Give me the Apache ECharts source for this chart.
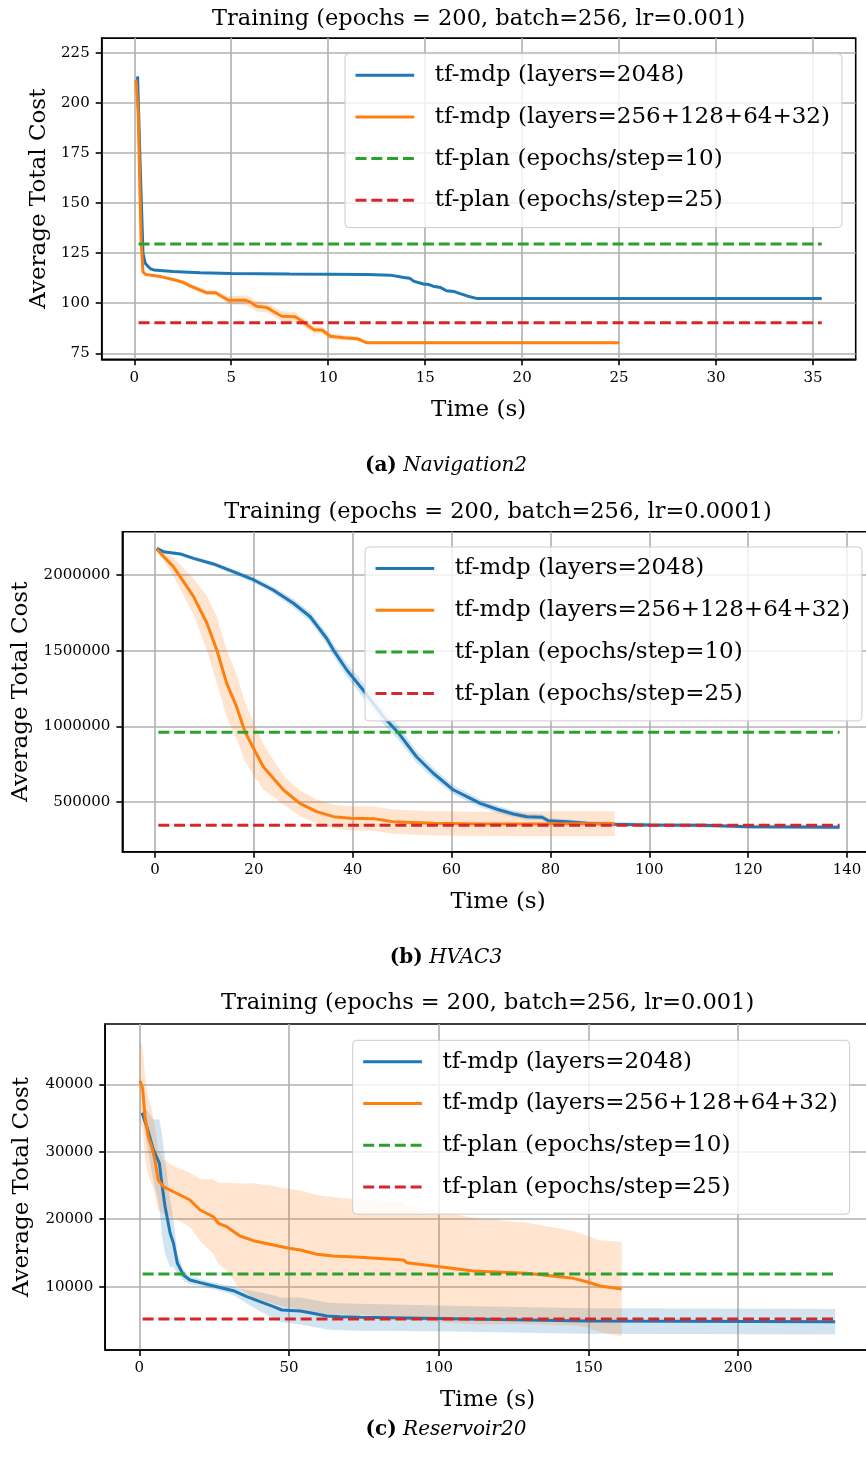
<!DOCTYPE html>
<html>
<head>
<meta charset="utf-8">
<title>training curves</title>
<style>
    * { margin: 0; padding: 0; }
    html, body { overflow: hidden; }
    /* wider than the window: the right spines of (b) and (c) fall outside the picture */
    #chart { width: 900px; height: 1475px; }
</style>
</head>
<body>
<div id="chart"></div>
<script src="https://cdn.jsdelivr.net/npm/echarts@6/dist/echarts.min.js"></script>
<script>
// ---- data ----
const names = ['tf-mdp (layers=2048)', 'tf-mdp (layers=256+128+64+32)', 'tf-plan (epochs/step=10)', 'tf-plan (epochs/step=25)'];
const titles = ['Training (epochs = 200, batch=256, lr=0.001)', 'Training (epochs = 200, batch=256, lr=0.0001)', 'Training (epochs = 200, batch=256, lr=0.001)'];
const captions = [['(a)', 'Navigation2'], ['(b)', 'HVAC3'], ['(c)', 'Reservoir20']];

// (a) Navigation2
const navXTicks = [0, 5, 10, 15, 20, 25, 30, 35];
const navYTicks = [75, 100, 125, 150, 175, 200, 225];
const navTimeBig = [0.17, 0.3, 0.45, 0.57, 0.82, 1.0, 2.0, 3.4, 5, 8, 10, 12, 13.2, 13.9, 14.2, 14.4, 14.9, 15.2, 15.4, 15.8, 16.1, 16.5, 16.8, 17.2, 17.7, 20, 25, 30, 35.45];
const navMeanBig = [213.2, 170, 124.8, 119.8, 117.3, 116.6, 115.8, 115.2, 114.8, 114.6, 114.5, 114.3, 114.0, 112.8, 112.5, 111.0, 109.6, 109.3, 108.5, 107.8, 106.2, 105.8, 104.8, 103.5, 102.3, 102.3, 102.3, 102.3, 102.3];
const navStdBig = [1, 1, 0.6, 0.4, 0.4, 0.4, 0.3, 0.3, 0.3, 0.3, 0.3, 0.3, 0.4, 0.6, 0.7, 0.7, 0.7, 0.7, 0.7, 0.7, 0.6, 0.6, 0.5, 0.4, 0.2, 0.1, 0.1, 0.1, 0.1];
const navTimeSmall = [0.09, 0.2, 0.27, 0.35, 0.45, 0.6, 1.25, 2.0, 2.5, 2.9, 3.4, 3.75, 4.2, 4.5, 4.86, 5.7, 6.0, 6.3, 6.84, 7.2, 7.6, 8.3, 8.7, 9.25, 9.7, 10.1, 10.8, 11.5, 12.0, 15, 20, 25];
const navMeanSmall = [211.5, 195, 165, 131.5, 115.5, 114.3, 113.5, 111.8, 110.5, 108.5, 106.5, 105.2, 105.2, 103.5, 101.5, 101.5, 100.5, 98.5, 97.8, 95.7, 93.5, 93.2, 90.7, 86.8, 86.5, 83.5, 82.7, 82.3, 80.2, 80.2, 80.2, 80.2];
const navStdSmall = [4, 3, 2, 1, 0.5, 0.4, 0.5, 0.8, 1.0, 1.2, 1.3, 1.2, 1.2, 1.5, 2.0, 2.5, 2.6, 2.6, 2.5, 2.5, 2.5, 2.4, 2.2, 2.0, 1.8, 1.5, 1.3, 1.2, 0.5, 0, 0, 0];
const navPlan = [129.5, 90.2];
const navPlanSpan = [0.22, 35.45];

// (b) HVAC3
const hvXTicks = [0, 20, 40, 60, 80, 100, 120, 140];
const hvYTicks = [500000, 1000000, 1500000, 2000000];
const hvTimeBig = [0.33, 1.7, 5.1, 7.8, 11.8, 15.8, 20, 23.9, 28, 31.4, 34.7, 36.1, 38.8, 42.1, 46.2, 49.2, 52.9, 56.3, 60.4, 63.1, 65.8, 69.2, 72.5, 75.2, 78.3, 79.6, 83.3, 87.4, 92.8, 100, 110.6, 120, 130.5, 138.5];
const hvMeanBig = [2176000, 2154000, 2139000, 2110000, 2073000, 2022000, 1967000, 1901000, 1813000, 1724000, 1582000, 1504000, 1372000, 1240000, 1064000, 958000, 799000, 690000, 579000, 535000, 491000, 452000, 421000, 403000, 399000, 376000, 370000, 359000, 353000, 348000, 346000, 337000, 335000, 333000];
const hvStdBig = [3000, 8000, 10000, 12000, 14000, 16000, 18000, 22000, 28000, 32000, 38000, 40000, 45000, 50000, 50000, 45000, 40000, 35000, 30000, 28000, 26000, 24000, 22000, 20000, 20000, 18000, 16000, 15000, 15000, 14000, 14000, 14000, 14000, 14000];
const hvTimeSmall = [0.33, 3.7, 7.8, 10.5, 12.5, 14.5, 16.5, 18.2, 20, 21.9, 26, 29.3, 32.7, 36.1, 39.5, 44.2, 48.2, 56.3, 65.8, 75, 85, 93];
const hvMeanSmall = [2170000, 2055000, 1857000, 1681000, 1504000, 1284000, 1130000, 964000, 850000, 733000, 579000, 491000, 436000, 403000, 392000, 390000, 370000, 359000, 355000, 355000, 356000, 356000];
const hvStdSmall = [8000, 60000, 120000, 180000, 220000, 220000, 213000, 195000, 176000, 150000, 95000, 86000, 80000, 78000, 80000, 80000, 80000, 80000, 80000, 82000, 82000, 82000];
const hvPlan = [960400, 346000];
const hvPlanSpan = [0.67, 138.5];

// (c) Reservoir20
const resXTicks = [0, 50, 100, 150, 200];
const resYTicks = [10000, 20000, 30000, 40000];
const resTimeBig = [0.9, 2.5, 4.7, 6.7, 7.5, 8.6, 10.3, 11.4, 12.7, 14.7, 16.9, 20.3, 25.9, 31.4, 35.9, 40.3, 44.8, 47.6, 53.7, 57, 62.6, 67, 73.7, 99.3, 149.4, 232.4];
const resMeanBig = [35790, 33710, 30260, 28290, 25320, 21860, 17910, 16430, 13470, 11730, 11000, 10600, 10000, 9410, 8520, 7780, 7040, 6550, 6400, 6150, 5660, 5550, 5460, 5300, 4920, 4810];
const resStdBig = [300, 2500, 4500, 6500, 7500, 7000, 5000, 3500, 1500, 800, 600, 500, 500, 600, 1000, 1400, 1700, 1800, 2000, 2000, 2000, 2000, 2000, 1900, 1900, 1900];
const resTimeSmall = [0.2, 1.1, 1.9, 3.0, 4.1, 5.2, 6.3, 8, 10.2, 13.6, 16.9, 20.3, 24.7, 26.4, 29.2, 33.6, 38.1, 44.8, 50, 53.7, 59.3, 64.8, 73.7, 88.2, 89.3, 100.4, 111.6, 129.4, 145, 149.4, 153.9, 161.1];
const resMeanSmall = [40530, 39400, 35200, 32230, 30750, 28780, 25810, 24820, 24330, 23590, 22850, 21370, 20370, 19400, 18890, 17510, 16820, 16180, 15690, 15440, 14800, 14550, 14360, 13960, 13560, 12960, 12330, 11990, 11240, 10740, 10100, 9660];
const resStdSmall = [6000, 6000, 6000, 5800, 5500, 5000, 4500, 4000, 3900, 3900, 4000, 4600, 5500, 6000, 6500, 7800, 8500, 8700, 8800, 8800, 8800, 8700, 8500, 8600, 8500, 8200, 7900, 7500, 7000, 6800, 6800, 7000];
const resPlan = [11880, 5213];
const resPlanSpan = [1.1, 232.4];

// ---- look ----
const SERIF = '"DejaVu Serif", serif';
const BLUE = '#1f77b4', ORANGE = '#ff7f0e', GREEN = '#2ca02c', RED = '#d62728';
const DASH = [11, 4.8];

// pixel frames of the three axes (matplotlib layout)
const frames = [
    {left: 101.7, top: 38.1, width: 754, height: 321.2, x: [-1.68, 37.2], y: [72, 232.3],
        legend: {left: 345, top: 53.7}, titleY: 19, capY: 466, yNameGap: 50},
    {left: 122.4, top: 531.7, width: 751.3, height: 320, x: [-6.6, 145.4], y: [171500, 2286000],
        legend: {left: 365, top: 547}, titleY: 512, capY: 958, yNameGap: 89},
    {left: 105.2, top: 1024, width: 764.7, height: 326, x: [-11.4, 244], y: [620, 48930],
        legend: {left: 352.7, top: 1040.3}, titleY: 1003, capY: 1430, yNameGap: 72}
];

const panels = [
    {xTicks: navXTicks, yTicks: navYTicks,
        big: [navTimeBig, navMeanBig, navStdBig], small: [navTimeSmall, navMeanSmall, navStdSmall],
        plan: navPlan, span: navPlanSpan},
    {xTicks: hvXTicks, yTicks: hvYTicks,
        big: [hvTimeBig, hvMeanBig, hvStdBig], small: [hvTimeSmall, hvMeanSmall, hvStdSmall],
        plan: hvPlan, span: hvPlanSpan},
    {xTicks: resXTicks, yTicks: resYTicks,
        big: [resTimeBig, resMeanBig, resStdBig], small: [resTimeSmall, resMeanSmall, resStdSmall],
        plan: resPlan, span: resPlanSpan}
];

// mean +- std shading, one polygon through the axis scales
function bandSeries(k, run, color) {
    const [t, m, s] = run;
    return {
        type: 'custom', xAxisIndex: k, yAxisIndex: k, silent: true, animation: false, clip: true,
        data: t.map((x, i) => [x, m[i] - s[i], m[i] + s[i]]),
        encode: {x: 0, y: [1, 2]},
        renderItem: function (params, api) {
            if (params.dataIndexInside !== 0) return null;
            const n = params.dataInsideLength;
            const up = [], dn = [];
            for (let i = 0; i < n; i++) {
                up.push(api.coord([api.value(0, i), api.value(2, i)]));
                dn.push(api.coord([api.value(0, i), api.value(1, i)]));
            }
            return {type: 'polygon', shape: {points: up.concat(dn.reverse())},
                style: {fill: color, opacity: 0.2, stroke: null}};
        }
    };
}

function meanSeries(k, run, name, color) {
    const [t, m] = run;
    return {type: 'line', name: name, xAxisIndex: k, yAxisIndex: k, symbol: 'none', silent: true,
        animation: false, data: t.map((x, i) => [x, m[i]]), lineStyle: {color: color, width: 3},
        itemStyle: {color: color}};
}

function planSeries(k, value, span, name, color) {
    return {type: 'line', name: name, xAxisIndex: k, yAxisIndex: k, symbol: 'none', silent: true,
        animation: false, data: [[span[0], value], [span[1], value]],
        lineStyle: {color: color, width: 3, type: DASH}, itemStyle: {color: color}};
}

const grid = [], xAxis = [], yAxis = [], series = [], legend = [], graphic = [];
const tickFont = {fontFamily: SERIF, fontSize: 15, color: '#000'};
const nameFont = {fontFamily: SERIF, fontSize: 23, color: '#000'};

panels.forEach((p, k) => {
    const f = frames[k];
    grid.push({left: f.left, top: f.top, width: f.width, height: f.height, show: true,
        outerBoundsMode: 'none',
        borderColor: '#000', borderWidth: 1.6, backgroundColor: 'transparent'});

    xAxis.push({type: 'value', gridIndex: k, min: f.x[0], max: f.x[1],
        name: 'Time (s)', nameLocation: 'middle', nameGap: 39, nameTextStyle: nameFont,
        axisLine: {onZero: false, lineStyle: {color: '#000', width: 1.6}},
        axisTick: {inside: false, length: 6, customValues: p.xTicks, lineStyle: {color: '#000', width: 1.6}},
        axisLabel: Object.assign({customValues: p.xTicks, margin: 11, formatter: v => String(v)}, tickFont),
        splitLine: {show: true, lineStyle: {color: '#b0b0b0', width: 1.6}}});

    yAxis.push({type: 'value', gridIndex: k, min: f.y[0], max: f.y[1],
        name: 'Average Total Cost', nameLocation: 'middle', nameGap: f.yNameGap, nameTextStyle: nameFont,
        axisLine: {onZero: false, lineStyle: {color: '#000', width: 1.6}},
        axisTick: {inside: false, length: 6, customValues: p.yTicks, lineStyle: {color: '#000', width: 1.6}},
        axisLabel: Object.assign({customValues: p.yTicks, margin: 12, formatter: v => String(v)}, tickFont),
        splitLine: {show: true, lineStyle: {color: '#b0b0b0', width: 1.6}}});

    series.push(bandSeries(k, p.big, BLUE));
    series.push(meanSeries(k, p.big, names[0], BLUE));
    series.push(bandSeries(k, p.small, ORANGE));
    series.push(meanSeries(k, p.small, names[1], ORANGE));
    series.push(planSeries(k, p.plan[0], p.span, names[2], GREEN));
    series.push(planSeries(k, p.plan[1], p.span, names[3], RED));

    legend.push({data: names, orient: 'vertical', left: f.legend.left, top: f.legend.top,
        selectedMode: false, itemWidth: 58.7, itemHeight: 14, itemGap: 17.7,
        itemStyle: {opacity: 0, borderWidth: 0}, lineStyle: {width: 3},
        padding: [9.5, 12, 15.3, 9], backgroundColor: 'rgba(255,255,255,0.8)',
        borderColor: '#cccccc', borderWidth: 1, borderRadius: 4,
        textStyle: {fontFamily: SERIF, fontSize: 23, color: '#000', lineHeight: 24, padding: [0, 0, 0, 15.6]}});

    graphic.push({type: 'text', x: f.left + f.width / 2, y: f.titleY, silent: true,
        style: {text: titles[k], fontFamily: SERIF, fontSize: 22.5, fill: '#000', align: 'center', verticalAlign: 'middle'}});
    graphic.push({type: 'text', x: 446, y: f.capY, silent: true,
        style: {text: '{b|' + captions[k][0] + '} {i|' + captions[k][1] + '}', fontFamily: SERIF, fontSize: 20,
            fill: '#000', align: 'center', verticalAlign: 'middle',
            rich: {b: {fontFamily: SERIF, fontSize: 20, fontWeight: 'bold'},
                i: {fontFamily: SERIF, fontSize: 20, fontStyle: 'italic'}}}});
});

const chart = echarts.init(document.getElementById('chart'));
chart.setOption({
    animation: false,
    backgroundColor: '#ffffff',
    grid: grid, xAxis: xAxis, yAxis: yAxis, legend: legend, series: series, graphic: graphic
});
</script>
</body>
</html>
